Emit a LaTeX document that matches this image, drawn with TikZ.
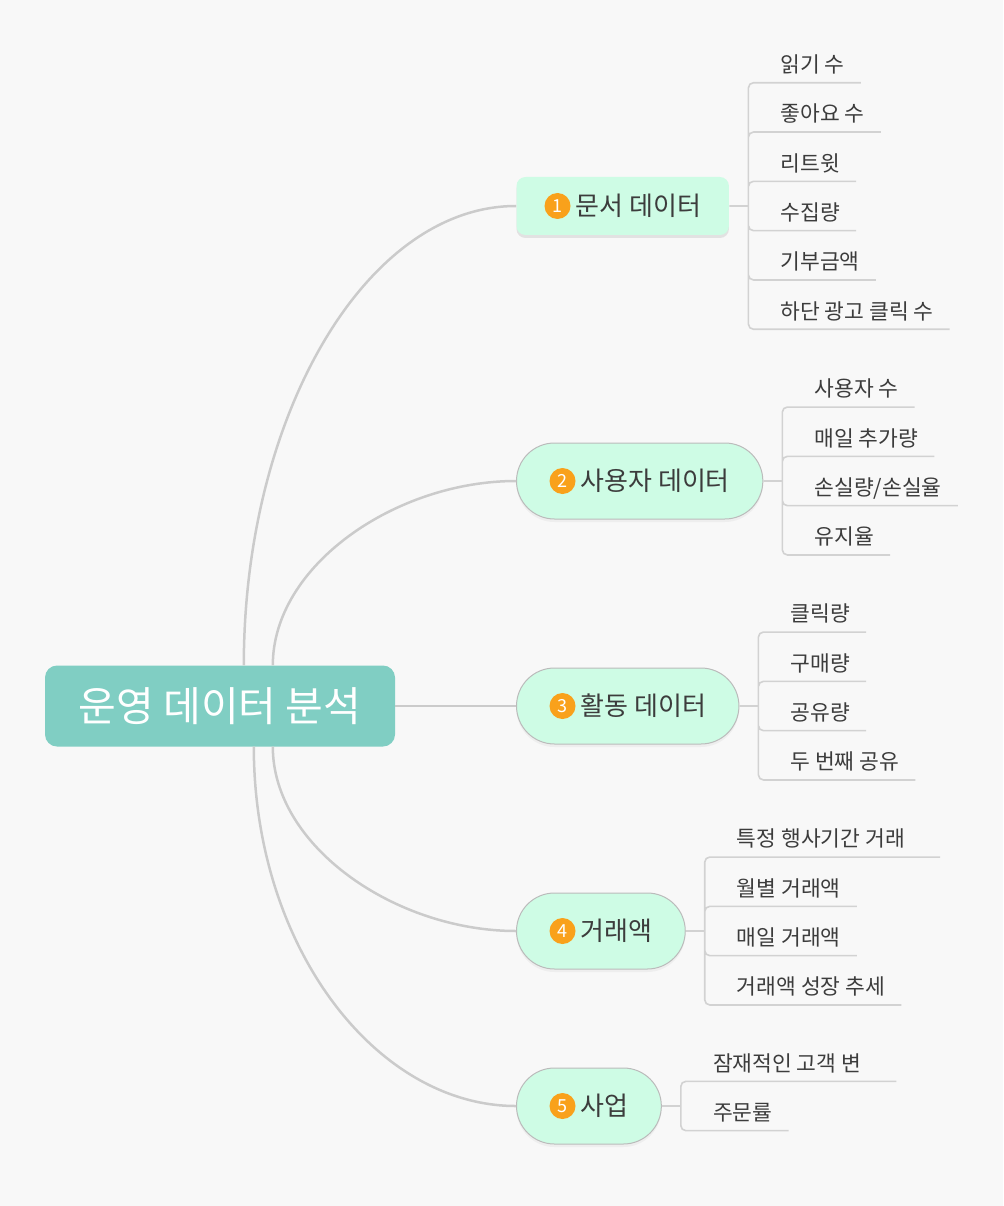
\documentclass[tikz,border=0pt]{standalone}
\usepackage{fontspec}
\setmainfont{Noto Sans CJK KR}
\usepackage{tikz}
\usetikzlibrary{positioning, shadows}

\definecolor{bgcol}{HTML}{F8F8F8}
\definecolor{rootcol}{HTML}{80CEC3}
\definecolor{mintcol}{HTML}{CEFCE5}
\definecolor{edgecol}{HTML}{CBCBCB}
\definecolor{twigcol}{HTML}{D2D2D2}
\definecolor{bordercol}{HTML}{BBBBBB}
\definecolor{dotcol}{HTML}{F9A11B}
\definecolor{inkcol}{HTML}{3C3C3C}

\tikzset{
  root/.style={
    rectangle,
    fill=rootcol,
    rounded corners=12pt,
    text=white,
    minimum width=350pt,
    minimum height=81pt,
    font=\fontsize{41}{48}\selectfont
  },
  topic/.style={
    rectangle,
    draw=bordercol,
    line width=1pt,
    fill=mintcol,
    rounded corners=38pt,
    inner xsep=33pt,
    minimum height=76pt,
    text=inkcol,
    font=\fontsize{26}{30}\selectfont,
    drop shadow={opacity=0.08, shadow xshift=0pt, shadow yshift=-3pt}
  },
  firsttopic/.style={
    topic,
    draw=none,
    rounded corners=9pt,
    inner xsep=28pt,
    minimum height=58pt,
    drop shadow={opacity=0.1, shadow xshift=0pt, shadow yshift=-3pt}
  },
  numbadge/.style={
    circle,
    draw=none,
    fill=dotcol,
    text=white,
    inner sep=0pt,
    minimum size=26pt,
    font=\fontsize{18}{18}\selectfont
  },
  leaf/.style={
    anchor=south west,
    inner xsep=16pt,
    inner ysep=6pt,
    text height=15pt,
    text depth=4pt,
    text=inkcol,
    font=\fontsize{21.5}{25}\selectfont
  },
  branch/.style={
    draw=edgecol,
    line width=2.5pt
  },
  twig/.style={
    draw=twigcol,
    line width=1.6pt,
    rounded corners=5pt
  }
}

\newcommand{\numdot}[1]{\tikz[baseline={([yshift=-3pt]nd.base)}]\node[numbadge] (nd) {#1};\hspace{5pt}}

\begin{document}
\begin{tikzpicture}[x=1pt, y=-1pt]
  \useasboundingbox[fill=bgcol] (0,0) rectangle (1003,1206);

  \node[root] (root) at (220,706) {운영 데이터 분석};

  \node[firsttopic, anchor=west] (doc) at (516,206) {\numdot{1}문서 데이터};
  \node[topic, anchor=west] (user) at (516,481) {\numdot{2}사용자 데이터};
  \node[topic, anchor=west] (act) at (516,706) {\numdot{3}활동 데이터};
  \node[topic, anchor=west] (deal) at (516,931) {\numdot{4}거래액};
  \node[topic, anchor=west] (biz) at (516,1106) {\numdot{5}사업};

  \draw[branch] ([xshift=199pt]root.north west) .. controls +(0,-250) and +(-150,0) .. (doc.west);
  \draw[branch] ([xshift=228pt]root.north west) .. controls +(0,-100) and +(-120,0) .. (user.west);
  \draw[branch] (root.east) -- (act.west);
  \draw[branch] ([xshift=228pt]root.south west) .. controls +(0,100) and +(-120,0) .. (deal.west);
  \draw[branch] ([xshift=209pt]root.south west) .. controls +(0,200) and +(-140,0) .. (biz.west);

  \coordinate (docj) at ([xshift=19pt]doc.east);
  \node[leaf] (doc1) at ([xshift=16pt, yshift=123.25pt]docj) {읽기 수};
  \node[leaf] (doc2) at ([yshift=-49.3pt]doc1.south west) {좋아요 수};
  \node[leaf] (doc3) at ([yshift=-49.3pt]doc2.south west) {리트윗};
  \node[leaf] (doc4) at ([yshift=-49.3pt]doc3.south west) {수집량};
  \node[leaf] (doc5) at ([yshift=-49.3pt]doc4.south west) {기부금액};
  \node[leaf] (doc6) at ([yshift=-49.3pt]doc5.south west) {하단 광고 클릭 수};
  \draw[twig] (doc.east) -- (docj)
    (docj) |- (doc1.south east) (docj) |- (doc2.south east)
    (docj) |- (doc3.south east) (docj) |- (doc4.south east)
    (docj) |- (doc5.south east) (docj) |- (doc6.south east);

  \coordinate (userj) at ([xshift=19pt]user.east);
  \node[leaf] (user1) at ([xshift=16pt, yshift=73.95pt]userj) {사용자 수};
  \node[leaf] (user2) at ([yshift=-49.3pt]user1.south west) {매일 추가량};
  \node[leaf] (user3) at ([yshift=-49.3pt]user2.south west) {손실량/손실율};
  \node[leaf] (user4) at ([yshift=-49.3pt]user3.south west) {유지율};
  \draw[twig] (user.east) -- (userj)
    (userj) |- (user1.south east) (userj) |- (user2.south east)
    (userj) |- (user3.south east) (userj) |- (user4.south east);

  \coordinate (actj) at ([xshift=19pt]act.east);
  \node[leaf] (act1) at ([xshift=16pt, yshift=73.95pt]actj) {클릭량};
  \node[leaf] (act2) at ([yshift=-49.3pt]act1.south west) {구매량};
  \node[leaf] (act3) at ([yshift=-49.3pt]act2.south west) {공유량};
  \node[leaf] (act4) at ([yshift=-49.3pt]act3.south west) {두 번째 공유};
  \draw[twig] (act.east) -- (actj)
    (actj) |- (act1.south east) (actj) |- (act2.south east)
    (actj) |- (act3.south east) (actj) |- (act4.south east);

  \coordinate (dealj) at ([xshift=19pt]deal.east);
  \node[leaf] (deal1) at ([xshift=16pt, yshift=73.95pt]dealj) {특정 행사기간 거래};
  \node[leaf] (deal2) at ([yshift=-49.3pt]deal1.south west) {월별 거래액};
  \node[leaf] (deal3) at ([yshift=-49.3pt]deal2.south west) {매일 거래액};
  \node[leaf] (deal4) at ([yshift=-49.3pt]deal3.south west) {거래액 성장 추세};
  \draw[twig] (deal.east) -- (dealj)
    (dealj) |- ([xshift=19pt]deal1.south east) (dealj) |- (deal2.south east)
    (dealj) |- (deal3.south east) (dealj) |- (deal4.south east);

  \coordinate (bizj) at ([xshift=19pt]biz.east);
  \node[leaf] (biz1) at ([xshift=16pt, yshift=24.65pt]bizj) {잠재적인 고객 변};
  \node[leaf] (biz2) at ([yshift=-49.3pt]biz1.south west) {주문률};
  \draw[twig] (biz.east) -- (bizj)
    (bizj) |- ([xshift=19pt]biz1.south east) (bizj) |- (biz2.south east);
\end{tikzpicture}
\end{document}
